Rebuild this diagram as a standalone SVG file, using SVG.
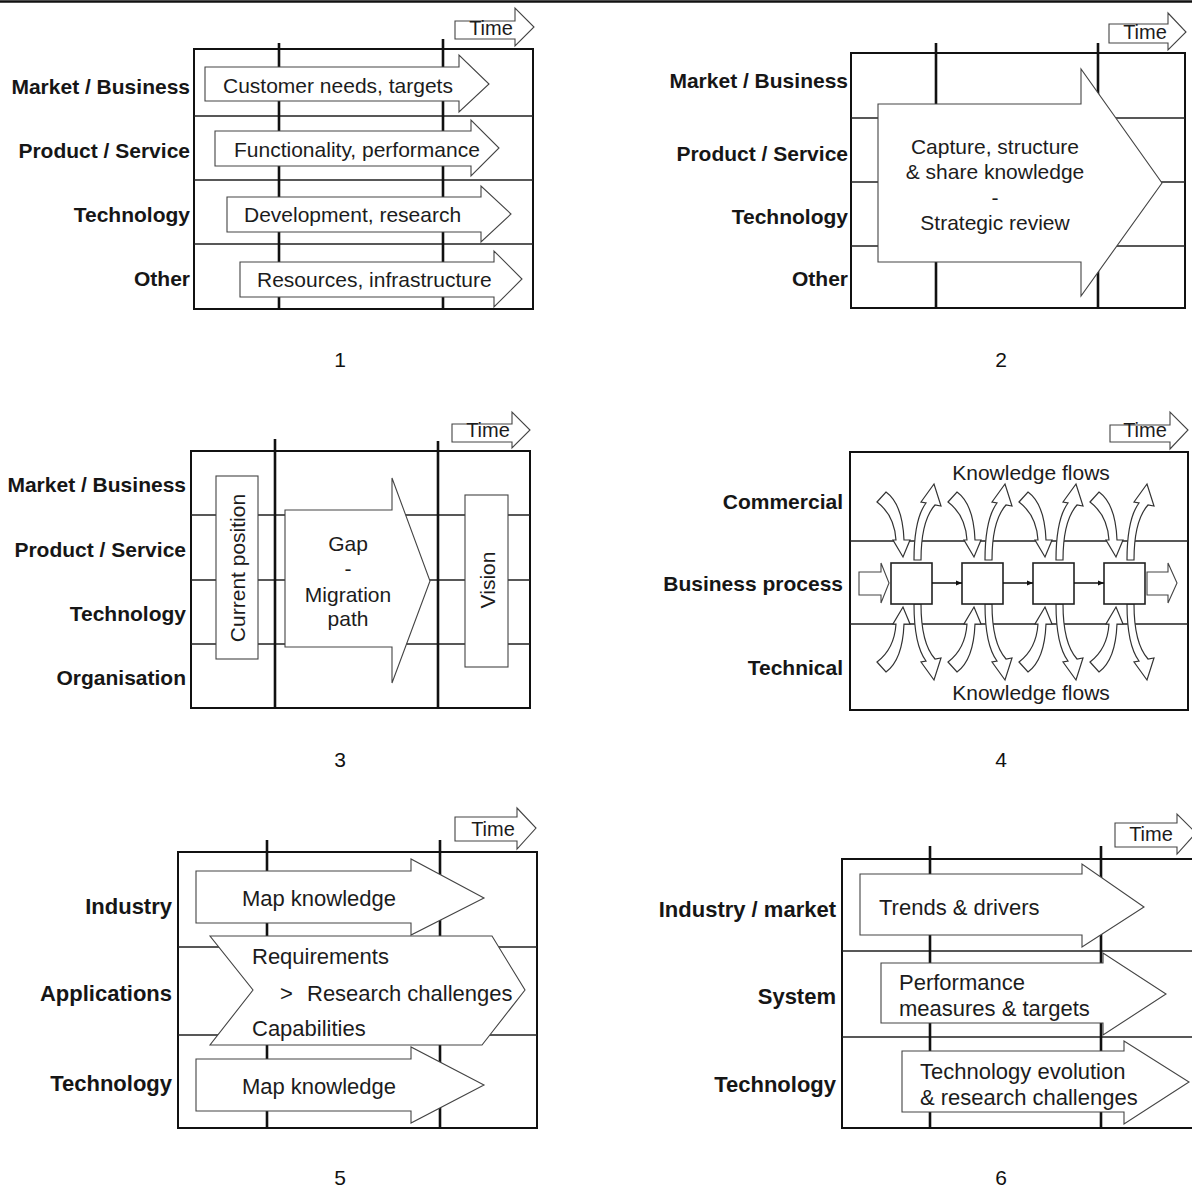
<svg xmlns="http://www.w3.org/2000/svg" xmlns:xlink="http://www.w3.org/1999/xlink" width="1192" height="1189" viewBox="0 0 1192 1189">
<style>
.bg{fill:#fff}
.frame{fill:none;stroke:#111;stroke-width:2}
.row{stroke:#222;stroke-width:1.5;fill:none}
.vl{stroke:#111;stroke-width:2.6;fill:none}
.blk{fill:#fff;stroke:#444;stroke-width:1.1;stroke-linejoin:miter}
.box{fill:#fff;stroke:#222;stroke-width:1.6}
.kf path{fill:#fff;stroke:#333;stroke-width:1.2}
.lbl{font-family:"Liberation Sans",Arial,sans-serif;font-weight:bold;font-size:21px;fill:#161616;text-anchor:end}
.lbl22{font-size:22px}
.txt{font-family:"Liberation Sans",Arial,sans-serif;font-size:21px;fill:#1c1c1c}
.t22{font-size:22px}
.mid{text-anchor:middle}
.time{font-family:"Liberation Sans",Arial,sans-serif;font-size:20px;fill:#1c1c1c;text-anchor:middle}
.num{font-family:"Liberation Sans",Arial,sans-serif;font-size:21px;fill:#111;text-anchor:middle}
.conn{stroke:#111;stroke-width:1.5;fill:none}
</style>
<defs>
<marker id="ah" viewBox="0 0 10 10" refX="10" refY="5" markerWidth="6" markerHeight="6" orient="auto" markerUnits="userSpaceOnUse">
<path d="M0 1 L10 5 L0 9 Z" fill="#111"/>
</marker>
<g id="kf" class="kf">
<path d="M877 502 L886 492 C897 500 903 515 904 540 L910 540 L903 557 L893 540 L896 540 C895 525 889 511 877 502 Z"/>
<path d="M914 560 C914 535 917 515 926 503 L921 502 L934 484 L941 506 L935 505 C926 515 921 535 921 560 Z"/>
</g>
</defs>
<rect class="bg" x="0" y="0" width="1192" height="1189"/>
<line x1="0" y1="1.5" x2="1192" y2="1.5" stroke="#111" stroke-width="2.5"/>

<!-- Panel 1 -->
<g id="panel1">
<rect class="frame" x="194" y="49" width="339" height="260"/>
<path class="row" d="M194 116H533M194 180H533M194 244H533"/>
<path class="vl" d="M279 43V309M443 39V309"/>
<g id="p1-time"><path class="blk" d="M455 21H515V8L534 27L515 46V39H455Z"/><text class="time" x="491" y="35">Time</text></g>
<g id="p1-market"><text class="lbl" x="190" y="94">Market / Business</text></g>
<g id="p1-product"><text class="lbl" x="190" y="158">Product / Service</text></g>
<g id="p1-tech"><text class="lbl" x="190" y="222">Technology</text></g>
<g id="p1-other"><text class="lbl" x="190" y="286">Other</text></g>
<g id="p1-a1"><path class="blk" d="M205 67H459V55L489 84L459 112V101H205Z"/><text class="txt" x="223" y="93">Customer needs, targets</text></g>
<g id="p1-a2"><path class="blk" d="M215 131H471V120L499 148L471 176V166H215Z"/><text class="txt" x="234" y="157">Functionality, performance</text></g>
<g id="p1-a3"><path class="blk" d="M227 197H481V186L511 214L481 242V232H227Z"/><text class="txt" x="244" y="222">Development, research</text></g>
<g id="p1-a4"><path class="blk" d="M240 262H494V251L522 279L494 307V297H240Z"/><text class="txt" x="257" y="287">Resources, infrastructure</text></g>
<text class="num" x="340" y="367">1</text>
</g>

<!-- Panel 2 -->
<g id="panel2">
<rect class="frame" x="851" y="53" width="334" height="255"/>
<path class="row" d="M851 118H1185M851 182H1185M851 246H1185"/>
<path class="vl" d="M936 43V308M1098 43V308"/>
<g id="p2-time"><path class="blk" d="M1109 24H1168V13L1186 32L1168 50V43H1109Z"/><text class="time" x="1145" y="39">Time</text></g>
<g id="p2-market"><text class="lbl" x="848" y="88">Market / Business</text></g>
<g id="p2-product"><text class="lbl" x="848" y="161">Product / Service</text></g>
<g id="p2-tech"><text class="lbl" x="848" y="224">Technology</text></g>
<g id="p2-other"><text class="lbl" x="848" y="286">Other</text></g>
<g id="p2-arrow"><path class="blk" d="M878 104H1081V69L1162 183L1081 296V262H878Z"/>
<text class="txt mid" x="995" y="154">Capture, structure</text>
<text class="txt mid" x="995" y="179">&amp; share knowledge</text>
<text class="txt mid" x="995" y="205">-</text>
<text class="txt mid" x="995" y="230">Strategic review</text></g>
<text class="num" x="1001" y="367">2</text>
</g>

<!-- Panel 3 -->
<g id="panel3">
<rect class="frame" x="191" y="451" width="339" height="257"/>
<path class="row" d="M191 515H530M191 580H530M191 644H530"/>
<path class="vl" d="M275 439V708M438 441V708"/>
<g id="p3-time"><path class="blk" d="M452 424H512V412L530 430L512 448V442H452Z"/><text class="time" x="488" y="437">Time</text></g>
<g id="p3-market"><text class="lbl" x="186" y="492">Market / Business</text></g>
<g id="p3-product"><text class="lbl" x="186" y="557">Product / Service</text></g>
<g id="p3-tech"><text class="lbl" x="186" y="621">Technology</text></g>
<g id="p3-org"><text class="lbl" x="186" y="685">Organisation</text></g>
<g id="p3-current"><rect class="blk" x="216" y="476" width="42" height="183"/><text class="txt mid" transform="translate(244.5,568) rotate(-90)">Current position</text></g>
<g id="p3-gap"><path class="blk" d="M285 510H392V478L430 581L392 683V647H285Z"/>
<text class="txt mid" x="348" y="551">Gap</text>
<text class="txt mid" x="348" y="576">-</text>
<text class="txt mid" x="348" y="602">Migration</text>
<text class="txt mid" x="348" y="626">path</text></g>
<g id="p3-vision"><rect class="blk" x="465" y="495" width="43" height="172"/><text class="txt mid" transform="translate(494.5,580) rotate(-90)">Vision</text></g>
<text class="num" x="340" y="767">3</text>
</g>

<!-- Panel 4 -->
<g id="panel4">
<rect class="frame" x="850" y="452" width="338" height="258"/>
<path class="row" d="M850 541H1188M850 624H1188"/>
<g id="p4-time"><path class="blk" d="M1110 425H1170V412L1188 430L1170 449V442H1110Z"/><text class="time" x="1145" y="437">Time</text></g>
<g id="p4-commercial"><text class="lbl" x="843" y="509">Commercial</text></g>
<g id="p4-process"><text class="lbl" x="843" y="591">Business process</text></g>
<g id="p4-technical"><text class="lbl" x="843" y="675">Technical</text></g>
<g id="p4-kf-top"><text class="txt mid" x="1031" y="480">Knowledge flows</text></g>
<g id="p4-kf-bottom"><text class="txt mid" x="1031" y="700">Knowledge flows</text></g>
<g id="p4-flows">
<use xlink:href="#kf" href="#kf"/>
<use xlink:href="#kf" href="#kf" transform="translate(71,0)"/>
<use xlink:href="#kf" href="#kf" transform="translate(142,0)"/>
<use xlink:href="#kf" href="#kf" transform="translate(213,0)"/>
<use xlink:href="#kf" href="#kf" transform="translate(0,1164) scale(1,-1)"/>
<use xlink:href="#kf" href="#kf" transform="translate(71,1164) scale(1,-1)"/>
<use xlink:href="#kf" href="#kf" transform="translate(142,1164) scale(1,-1)"/>
<use xlink:href="#kf" href="#kf" transform="translate(213,1164) scale(1,-1)"/>
</g>
<g id="p4-in"><path class="blk" d="M859 572H881V563L889 583L881 603V595H859Z"/></g>
<g id="p4-box1"><rect class="box" x="891" y="563" width="41" height="41"/></g>
<g id="p4-box2"><rect class="box" x="962" y="563" width="41" height="41"/></g>
<g id="p4-box3"><rect class="box" x="1033" y="563" width="41" height="41"/></g>
<g id="p4-box4"><rect class="box" x="1104" y="563" width="41" height="41"/></g>
<g id="p4-out"><path class="blk" d="M1147 572H1168V563L1177 583L1168 603V595H1147Z"/></g>
<g id="connectors">
<line class="conn" x1="932" y1="583" x2="962" y2="583" marker-end="url(#ah)"/>
<line class="conn" x1="1003" y1="583" x2="1033" y2="583" marker-end="url(#ah)"/>
<line class="conn" x1="1074" y1="583" x2="1104" y2="583" marker-end="url(#ah)"/>
</g>
<text class="num" x="1001" y="767">4</text>
</g>

<!-- Panel 5 -->
<g id="panel5">
<rect class="frame" x="178" y="852" width="359" height="276"/>
<path class="row" d="M178 947H537M178 1035H537"/>
<path class="vl" d="M267 840V1128M440 840V1128"/>
<g id="p5-time"><path class="blk" d="M455 817H517V808L536 828L517 849V841H455Z"/><text class="time" x="493" y="836">Time</text></g>
<g id="p5-industry"><text class="lbl lbl22" x="172" y="914">Industry</text></g>
<g id="p5-apps"><text class="lbl lbl22" x="172" y="1001">Applications</text></g>
<g id="p5-tech"><text class="lbl lbl22" x="172" y="1091">Technology</text></g>
<g id="p5-a1"><path class="blk" d="M196 871H411V859L484 898L411 935V923H196Z"/><text class="txt t22 mid" x="319" y="906">Map knowledge</text></g>
<g id="p5-a3"><path class="blk" d="M196 1059H411V1047L484 1085L411 1123V1111H196Z"/><text class="txt t22 mid" x="319" y="1094">Map knowledge</text></g>
<g id="p5-chevron"><path class="blk" d="M210 936H492L525 990L482 1045H210L253 990Z"/>
<text class="txt t22" x="252" y="964">Requirements</text>
<text class="txt t22" x="280" y="1001">&gt;</text>
<text class="txt t22" x="307" y="1001">Research challenges</text>
<text class="txt t22" x="252" y="1036">Capabilities</text></g>
<text class="num" x="340" y="1185">5</text>
</g>

<!-- Panel 6 -->
<g id="panel6">
<path class="frame" d="M1194 859H842V1128H1194"/>
<path class="row" d="M842 951H1192M842 1037H1192"/>
<path class="vl" d="M930 846V1128M1101 846V1128"/>
<g id="p6-time"><path class="blk" d="M1115 823H1177V814L1196 833L1177 854V847H1115Z"/><text class="time" x="1151" y="841">Time</text></g>
<g id="p6-industry"><text class="lbl lbl22" x="836" y="917">Industry / market</text></g>
<g id="p6-system"><text class="lbl lbl22" x="836" y="1004">System</text></g>
<g id="p6-tech"><text class="lbl lbl22" x="836" y="1092">Technology</text></g>
<g id="p6-a1"><path class="blk" d="M860 874H1082V864L1144 907L1082 947V935H860Z"/><text class="txt t22" x="879" y="915">Trends &amp; drivers</text></g>
<g id="p6-a2"><path class="blk" d="M881 963H1103V953L1166 994L1103 1035V1023H881Z"/>
<text class="txt t22" x="899" y="990">Performance</text>
<text class="txt t22" x="899" y="1016">measures &amp; targets</text></g>
<g id="p6-a3"><path class="blk" d="M902 1051H1124V1041L1189 1082L1124 1124V1112H902Z"/>
<text class="txt t22" x="920" y="1079">Technology evolution</text>
<text class="txt t22" x="920" y="1105">&amp; research challenges</text></g>
<text class="num" x="1001" y="1185">6</text>
</g>
</svg>
